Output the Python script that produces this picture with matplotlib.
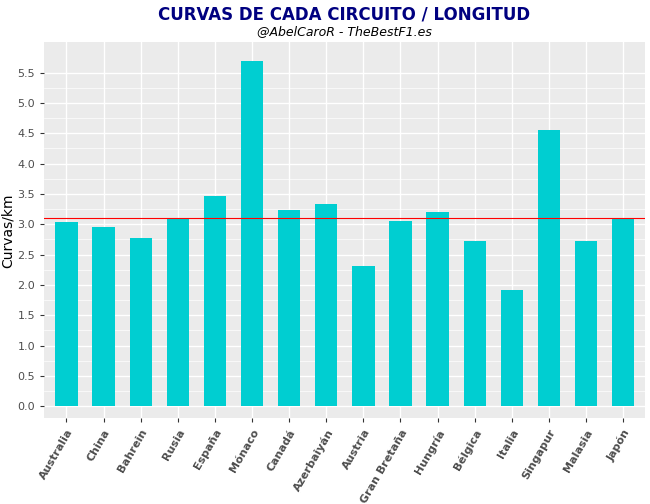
import matplotlib.pyplot as plt
import numpy as np

circuits = ["Australia", "China", "Bahrein", "Rusia", "España", "Mónaco", "Canadá",
            "Azerbaiyán", "Austria", "Gran Bretaña", "Hungría", "Bélgica", "Italia",
            "Singapur", "Malasia", "Japón"]
curves_km = [3.03, 2.95, 2.78, 3.10, 3.46, 5.69, 3.23, 3.34, 2.32, 3.06, 3.20,
             2.73, 1.91, 4.55, 2.73, 3.11]
mean_line = 3.11

fig = plt.figure(figsize=(6.5, 5.04), dpi=100)
ax = fig.add_axes([0.068, 0.17, 0.925, 0.746])
ax.set_facecolor("#EBEBEB")
x = np.arange(len(circuits))
ax.set_axisbelow(True)
yt = np.arange(0, 5.51, 0.5)
ax.set_yticks(yt)
ax.set_yticks(yt[:-1] + 0.25, minor=True)
ax.set_yticklabels([f"{v:.1f}" for v in yt], fontsize=8, color="#4D4D4D")
ax.grid(which="major", color="white", linewidth=1.0)
ax.grid(which="minor", axis="y", color="white", linewidth=0.5)
ax.bar(x, curves_km, width=0.6, color="#00CED1")
ax.axhline(mean_line, color="red", linewidth=0.8)
ax.set_xticks(x)
ax.set_xticklabels(circuits, rotation=60, ha="right", rotation_mode="anchor",
                   fontsize=8, fontweight="bold", color="#4D4D4D")
ax.set_xlim(-0.6, 15.6)
ax.set_ylim(-0.2, 6.0)
for s in ax.spines.values():
    s.set_visible(False)
ax.tick_params(which="both", color="#333333", length=3)
ax.tick_params(which="minor", length=0)
ax.set_ylabel("Curvas/km", fontsize=10, labelpad=2)
fig.text(0.53, 0.962, "CURVAS DE CADA CIRCUITO / LONGITUD", ha="center",
         fontsize=12, fontweight="bold", color="#000080")
fig.text(0.53, 0.93, "@AbelCaroR - TheBestF1.es", ha="center",
         fontsize=9, style="italic")
fig.savefig("out.png", dpi=100)
